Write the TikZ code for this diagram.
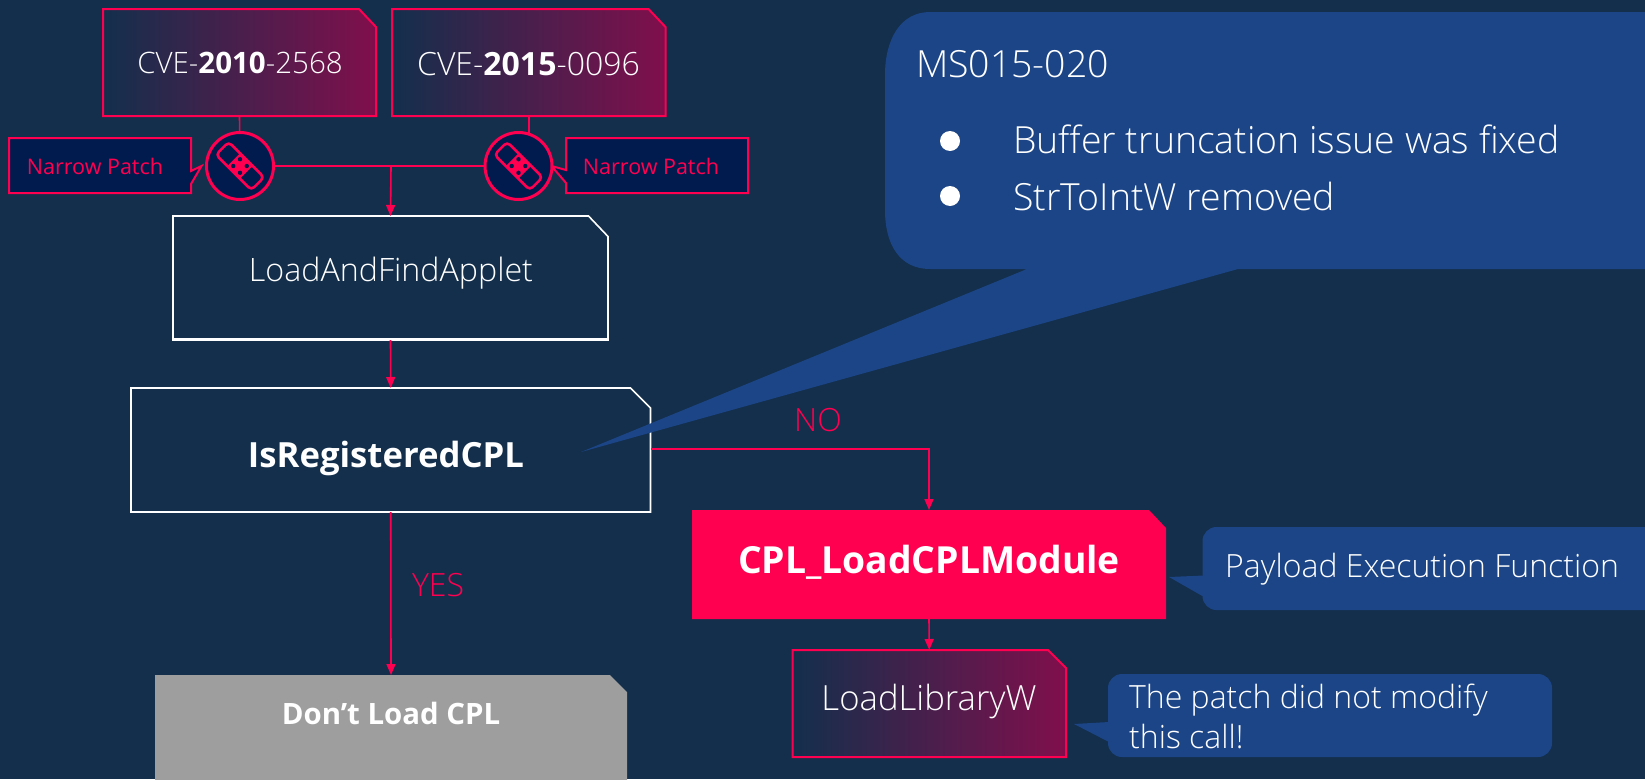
\documentclass[tikz,border=0pt]{standalone}
\usepackage{fontspec}
\setmainfont{Open Sans Light}[BoldFont={Open Sans Bold}]
\newfontfamily\patchfont{Open Sans}
\usetikzlibrary{arrows.meta,calc}
\definecolor{bgc}{HTML}{132F4C}
\definecolor{pinkc}{HTML}{FF0050}
\definecolor{bluec}{HTML}{1C4587}
\definecolor{navyc}{HTML}{021B4E}
\definecolor{gradc}{HTML}{800F4C}
\definecolor{grayc}{HTML}{9E9E9E}
\tikzset{
 x=1pt,y=-1pt,
 link/.style={draw=pinkc,line width=1.6pt},
 arrowlink/.style={link,-{Triangle[length=11pt,width=9pt]}},
 gradbox/.style={draw=pinkc,line width=2pt,left color=bgc,right color=gradc},
 whitebox/.style={draw=white,line width=1.6pt,fill=bgc},
 hotbox/.style={fill=pinkc},
 greybox/.style={fill=grayc},
 bubble/.style={fill=bluec},
 patchbox/.style={draw=pinkc,line width=2pt,fill=navyc},
 patchdisc/.style={circle,draw=pinkc,line width=3pt,fill=navyc,minimum size=67pt,inner sep=0pt},
 lbl/.style={text=white,inner sep=0pt,font=\fontsize{29}{35}\selectfont},
 patchlbl/.style={text=pinkc,inner sep=0pt,font=\patchfont\fontsize{21.5}{26}\selectfont},
 ic/.style={draw=pinkc,line width=2.6pt,line join=round}
}
% name, x1,y1,x2,y2, notch dx, notch dy, style
\newcommand{\notchbox}[8]{%
 \path[#8] (#2,#3) -- ({#4-#6},#3) -- (#4,{#3+#7}) -- (#4,#5) -- (#2,#5) -- cycle;
 \coordinate (#1) at ({(#2+#4)/2},{(#3+#5)/2});
 \coordinate (#1N) at ({(#2+#4)/2},#3);
 \coordinate (#1S) at ({(#2+#4)/2},#5);
}
\newcommand{\bandage}[1]{%
 \begin{scope}[shift={#1},rotate=-45]
  \draw[ic,rounded corners=4pt] (-25,-9) rectangle (25,9);
  \fill[pinkc] (-9,-9) rectangle (9,9);
  \foreach \a/\b in {-4.8/-4.8,4.8/-4.8,-4.8/4.8,4.8/4.8}{\fill[navyc] (\a,\b) circle (2.2pt);}
 \end{scope}}
\begin{document}
\begin{tikzpicture}
\useasboundingbox (0,0) rectangle (1645,779);
\fill[bgc] (0,0) rectangle (1645,779);
% boxes
\notchbox{cvea}{103}{9}{376}{116}{17}{18}{gradbox}
\notchbox{cveb}{392}{9}{665.5}{116}{17}{18}{gradbox}
\notchbox{lafa}{173}{216}{608}{340}{19.5}{20.5}{whitebox}
\draw[white,line width=3pt] (173,339.5) -- (608,339.5);
\notchbox{reg}{131}{388}{650.5}{512}{20}{20}{whitebox}
\notchbox{cpl}{692}{510}{1166}{619}{17}{18}{hotbox}
\notchbox{llw}{792.5}{650}{1066}{757}{18}{18}{gradbox}
\notchbox{dont}{155}{675}{627}{790}{17}{17}{greybox}
% big bubble
\path[bubble] (1645,12) -- (930,12) .. controls (900,12) and (885,40) .. (885,75) -- (885,210) .. controls (885,245) and (900,269) .. (930,269) -- (1027,269) -- (581,452) -- (1238,269) -- (1645,269) -- cycle;
% patch labels
\path[patchbox] (9,138) -- (191,138) -- (191,171) -- (201.5,166) -- (191,184) -- (191,193) -- (9,193) -- cycle;
\path[patchbox] (566,138) -- (748,138) -- (748,193) -- (566,193) -- (566,183) -- (551.5,166) -- (566,170) -- cycle;
% small bubbles
\path[bubble,rounded corners=14pt] (1202.5,610) -- (1202.5,527) -- (1660,527) -- (1660,610) -- cycle;
\path[bubble] (1169,577) -- (1204,575.5) -- (1204,597) -- cycle;
\path[bubble,rounded corners=14pt] (1108,757) -- (1108,674) -- (1552,674) -- (1552,757) -- cycle;
\path[bubble] (1074,724) -- (1109,722) -- (1109,742) -- cycle;
% stems under the discs
\coordinate (pb) at (518.5,166);
\draw[link] (cveaS) -- (240,166);
\draw[link] (cvebS) -- (cvebS|-pb);
% patch circles
\node[patchdisc] (pa) at (240,166) {};
\node[patchdisc] (pb) at (518.5,166) {};
\bandage{(pa.center)}
\bandage{(pb.center)}
% texts
\node[lbl,font=\fontsize{29.5}{35}\selectfont] (tcvea) at (240,63) {CVE-\textbf{2010}-2568};
\node[lbl,font=\fontsize{32}{38}\selectfont] (tcveb) at (528.5,64) {CVE-\textbf{2015}-0096};
\node[lbl,font=\fontsize{32.2}{38}\selectfont] (tlaf) at (391,273) {LoadAndFindApplet};
\node[lbl,font=\bfseries\fontsize{34.7}{42}\selectfont] (treg) at (386,458) {IsRegisteredCPL};
\node[lbl,font=\bfseries\fontsize{37.3}{44}\selectfont] (tcpl) at (929,562) {CPL\_LoadCPLModule};
\node[lbl,font=\fontsize{34.7}{42}\selectfont] (tllw) at (929,701) {LoadLibraryW};
\node[lbl,font=\bfseries\fontsize{29.4}{35}\selectfont] (tdont) at (391,713) {Don’t Load CPL};
\node[patchlbl] (tpa) at (95,166) {Narrow Patch};
\node[patchlbl] (tpb) at (651,166) {Narrow Patch};
\node[lbl,anchor=west,font=\fontsize{37.4}{44}\selectfont] (tms) at (916,64) {MS015-020};
\node[lbl,anchor=west,font=\fontsize{37.4}{44}\selectfont] (tb1) at (1013,139) {Buffer truncation issue was fixed};
\node[lbl,anchor=west,font=\fontsize{37.4}{44}\selectfont] (tb2) at (1013,196) {StrToIntW removed};
\fill[white] (950,141) circle (10pt);
\fill[white] (950,196) circle (10pt);
\node[lbl,anchor=west,font=\fontsize{32}{38}\selectfont] (tpay) at (1225,569) {Payload Execution Function};
\node[lbl,anchor=west,font=\fontsize{32}{38}\selectfont] (tn1) at (1129,700) {The patch did not modify};
\node[lbl,anchor=west,font=\fontsize{32}{38}\selectfont] (tn2) at (1129,736) {this call!};
\node[lbl,text=pinkc,font=\fontsize{32}{38}\selectfont] (tno) at (818,420) {NO};
\node[lbl,text=pinkc,font=\fontsize{32}{38}\selectfont] (tyes) at (438,585) {YES};
% connectors
\coordinate (junc) at (391,166);
\draw[link] (pa.east) -- (pb.west);
\draw[arrowlink] (junc) -- (lafaN);
\draw[arrowlink] (lafaS) -- (regN);
\draw[arrowlink] (regS) -- (dontN);
\coordinate (regE) at (650.5,449);
\draw[arrowlink] (regE) -| (cplN);
\draw[arrowlink] (cplS) -- (llwN);
\end{tikzpicture}
\end{document}
